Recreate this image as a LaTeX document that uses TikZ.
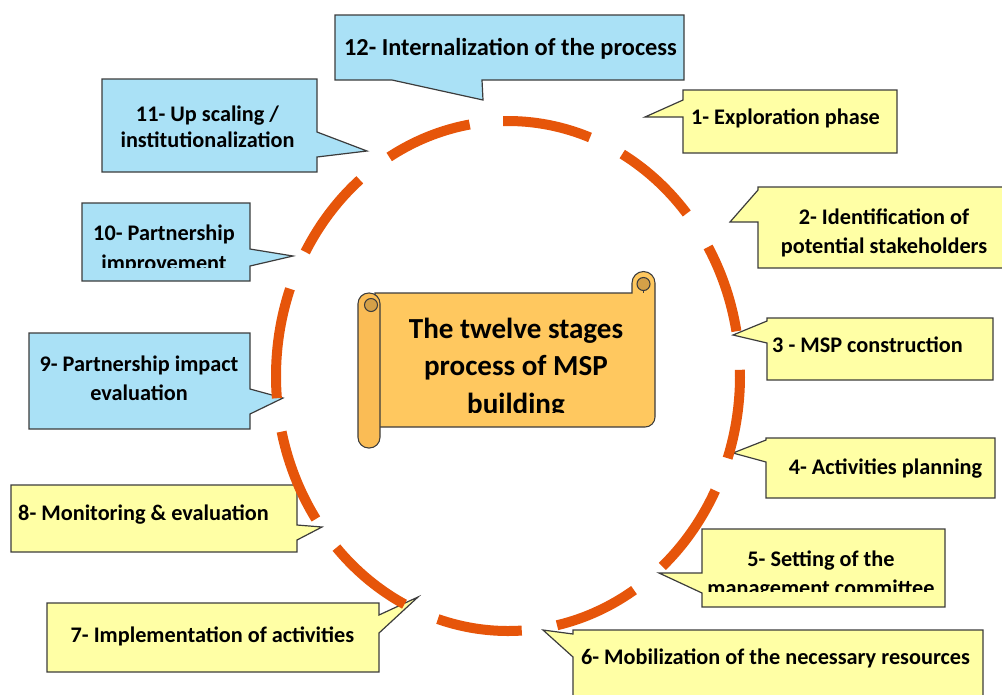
\documentclass[tikz,border=0pt]{standalone}
\usepackage{fontspec}
\setmainfont{Carlito}
\usetikzlibrary{calc}

\definecolor{ringorange}{RGB}{230,85,10}
\definecolor{calloutyellow}{RGB}{255,255,165}
\definecolor{calloutblue}{RGB}{170,225,246}
\definecolor{outline}{RGB}{60,60,60}
\definecolor{scrollsheet}{RGB}{255,200,95}
\definecolor{scrollroll}{RGB}{250,188,85}
\definecolor{scrollcurl}{RGB}{212,160,72}

\tikzset{
  yellowcall/.style={draw=outline, fill=calloutyellow, line width=0.9pt},
  bluecall/.style={draw=outline, fill=calloutblue, line width=0.9pt},
  stage/.style={font=\fontsize{16.7}{22}\selectfont\bfseries, inner sep=0pt, align=center},
  title/.style={font=\fontsize{21.8}{28}\selectfont\bfseries, inner sep=0pt, align=center},
  ringdash/.style={draw=ringorange, line width=7.5pt},
  scrollpart/.style={draw=outline, line width=0.8pt}
}

\begin{document}
\begin{tikzpicture}[x=0.75pt, y=-0.75pt]
    \useasboundingbox (0,0) rectangle (1002,694);
    \clip (0,0) rectangle (1002,694);

    % callouts, blue ones
    \draw[bluecall] (335,15) -- (684,15) -- (684,80) -- (482,80) -- (483,100) -- (392,80) -- (335,80) -- cycle;
    \draw[bluecall] (102,79) -- (317,79) -- (317,132) -- (367,151) -- (317,157) -- (317,172) -- (102,172) -- cycle;
    \draw[bluecall] (82,203) -- (250,203) -- (250,249) -- (293,256) -- (250,266) -- (250,281) -- (82,281) -- cycle;
    \draw[bluecall] (29,333) -- (250,333) -- (250,389) -- (283,398) -- (250,414) -- (250,429) -- (29,429) -- cycle;
    % callouts, yellow ones
    \draw[yellowcall] (683,90) -- (897,90) -- (897,153) -- (683,153) -- (683,117) -- (645,117) -- (683,100) -- cycle;
    \draw[yellowcall] (758,187) -- (1010,187) -- (1010,268) -- (758,268) -- (758,222) -- (730,222) -- (758,190) -- cycle;
    \draw[yellowcall] (767,318) -- (993,318) -- (993,380) -- (767,380) -- (767,343) -- (733,335) -- (767,321) -- cycle;
    \draw[yellowcall] (766,438) -- (995,438) -- (995,498) -- (766,498) -- (766,462) -- (733,453) -- (766,440) -- cycle;
    \draw[yellowcall] (702,529) -- (945,529) -- (945,607) -- (702,607) -- (702,593) -- (659,573) -- (702,573) -- cycle;
    \draw[yellowcall] (573,630) -- (983,630) -- (983,700) -- (573,700) -- (573,657) -- (543,630) -- (573,634) -- cycle;
    \draw[yellowcall] (47,603) -- (379,603) -- (379,615) -- (418,597) -- (379,633) -- (379,672) -- (47,672) -- cycle;
    \draw[yellowcall] (11,485) -- (297,485) -- (297,525) -- (322,527) -- (297,540) -- (297,552) -- (11,552) -- cycle;

    \node[stage, font=\fontsize{18.3}{22}\selectfont\bfseries, anchor=base] (st12) at (510.5,55) {12- Internalization of the process};
    \node[stage, anchor=base] (st1) at (785.5,124) {1- Exploration phase};
    \node[stage] (st2) at (884,233) {2- Identification of\\potential stakeholders};
    \node[stage, anchor=base] (st3) at (867.5,352) {3 - MSP construction};
    \node[stage, anchor=base] (st4) at (885.5,474) {4- Activities planning};
    \begin{scope}
        \clip (702,529) rectangle (945,591);
        \node[stage] (st5) at (821,575) {5- Setting of the\\management committee};
    \end{scope}
    \node[stage, anchor=base] (st6) at (775.5,664) {6- Mobilization of the necessary resources};
    \node[stage, anchor=base] (st7) at (212.5,642) {7- Implementation of activities};
    \node[stage, anchor=base] (st8) at (143.5,520) {8- Monitoring \& evaluation};
    \node[stage] (st9) at (139,378) {9- Partnership impact\\evaluation};
    \begin{scope}
        \clip (82,203) rectangle (250,267);
        \node[stage] (st10) at (164,249.5) {10- Partnership\\improvement};
    \end{scope}
    \node[stage, font=\fontsize{16.7}{19.5}\selectfont\bfseries] (st11) at (207.5,127) {11- Up scaling /\\institutionalization};

    % dashed ring
    \foreach \a/\b in {10.1/30.4, 39.6/60.5, 69.3/91.2, 99.5/120.8, 129.7/150.9, 160/185,
                       192.6/214.1, 222.3/243.5, 252.4/273.4, 282.2/302.9, 311.7/333.3, 341.2/361.4}
        \draw[ringdash] plot[domain=\a:\b, samples=25, smooth] ({508+232*cos(\x)}, {376-255*sin(\x)});

    % scroll in the middle
    \filldraw[scrollpart, fill=scrollsheet] (375,293) -- (632,293) -- (632,283)
        arc[start angle=180, end angle=360, radius=11.5] -- (655,417)
        arc[start angle=0, end angle=90, radius=10] -- (375,427) -- cycle;
    \filldraw[scrollpart, fill=scrollcurl] (643.5,284) circle (6.5);
    \draw[scrollpart] (643.5,290.5) -- (643.5,293);
    \filldraw[scrollpart, fill=scrollroll, rounded corners=8pt] (358,293) rectangle (380,448);
    \filldraw[scrollpart, fill=scrollcurl] (371,305) circle (6.5);
    \begin{scope}
        \clip (380,280) rectangle (655,412);
        \node[title] (msp) at (516,368) {The twelve stages\\process of MSP\\building};
    \end{scope}
\end{tikzpicture}
\end{document}
